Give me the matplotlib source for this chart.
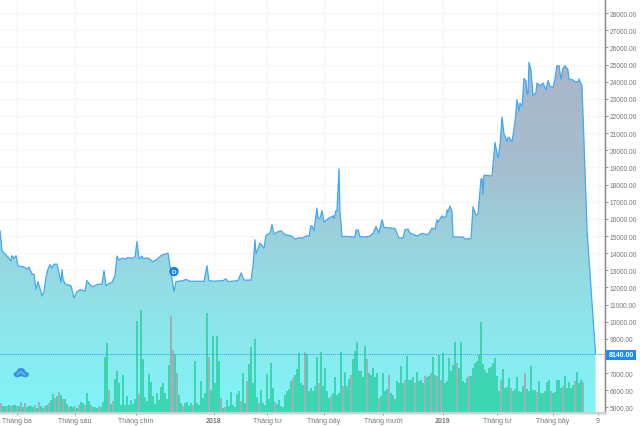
#STOCK PRICE AREA CHART WITH VOLUME BARS
import numpy as np
import matplotlib
matplotlib.use('Agg')
import matplotlib.pyplot as plt
from matplotlib.colors import LinearSegmentedColormap
from matplotlib.patches import Ellipse, Rectangle, Polygon

plt.rcParams['font.family'] = ['Liberation Sans', 'DejaVu Sans']

# PRICE LINE (SESSION POSITION, PRICE)
price_x = [0, 2, 5, 8, 11, 12, 14, 16, 18, 23, 27, 29, 32, 34, 36, 38, 42, 44, 46, 48, 50, 52, 54, 57, 61, 62, 63, 65, 71, 74,
           77, 80, 85, 87, 90, 93, 97, 102, 104, 106, 108, 112, 115, 117, 119, 122, 125, 128, 132, 135, 137, 139, 142, 143, 148, 153, 157, 162, 168,
           171, 174, 176, 183, 186, 190, 200, 204, 207, 209, 213, 223, 226, 228, 238, 241, 244, 251, 253, 255, 256, 260, 264, 266, 270,
           272, 274, 278, 281, 285, 291, 295, 300, 302, 307, 309, 311, 312, 314, 317, 318, 320, 322, 324, 328, 333, 334, 336, 337, 339, 340, 342,
           345, 355, 356, 358, 360, 365, 370, 373, 376, 379, 382, 384, 395, 399, 403, 405, 408, 410, 417, 422, 428, 432,
           435, 437, 438, 442, 443, 446, 447, 448, 450, 452, 453, 463, 465, 471, 473, 476, 478, 481, 482, 483, 484, 492, 495, 497, 498, 500,
           502, 504, 507, 508, 509, 512, 513, 515, 517, 519, 520, 522, 524, 526, 527, 528, 529, 531, 533, 536, 537, 540, 543, 546, 548, 550, 553, 555,
           557, 559, 561, 563, 565, 568, 569, 573, 575, 578, 579, 582, 584, 587, 595.5]
price_y = [15310, 14140, 13950, 13770, 13560, 13850, 13700, 13850, 13250, 13210, 13075, 13190, 12780, 12780, 11900, 12340, 11500, 11750, 12600, 13075, 13330, 13130, 13360, 13360, 12300, 13030, 12500, 12200, 12100, 11390,
           11750, 11870, 11790, 12400, 12140, 12040, 12170, 12200, 12980, 12100, 12200, 12300, 12680, 13830, 13600, 13700, 13660, 13750, 13690, 13790, 14670, 13660, 13830, 13680, 13720, 13500, 13650, 13900, 14000,
           12900, 11750, 12340, 12400, 12470, 12360, 12360, 12360, 13270, 12400, 12360, 12400, 12500, 12340, 12400, 12840, 12430, 12430, 13270, 14780, 13950, 14590, 14290, 15050, 15170,
           15660, 15120, 15250, 15310, 15080, 15020, 14820, 14910, 14870, 15020, 14990, 15600, 15600, 15310, 16630, 16050, 16030, 16480, 15820, 16000, 16180, 16030, 16480, 16480, 18910, 16400, 14960,
           14980, 14940, 15350, 15350, 14960, 14940, 15000, 15150, 15560, 15170, 15950, 15500, 15440, 14870, 14890, 15370, 15400, 15170, 15000, 15150, 15070, 15460,
           15400, 15950, 15800, 16180, 16080, 16130, 16520, 16420, 16750, 16400, 14940, 14940, 14820, 14850, 16700, 16220, 16280, 18320, 18350, 17440, 18550, 18500, 20460, 19800, 19550, 20280,
           21940, 20950, 20500, 20750, 20750, 20500, 20890, 21640, 22950, 22300, 22750, 22570, 24190, 24050, 23280, 23280, 25130, 24650, 23180, 23370, 23920, 23750, 23920, 23530, 24060, 23730, 23670, 24150,
           24930, 24930, 24150, 24780, 24930, 24700, 24150, 24100, 24000, 24000, 24150, 23750, 20500, 15400, 8140]

# VOLUME BARS, ONE VALUE EVERY TWO SESSIONS
volume = [10, 7, 7, 7, 8, 7, 8, 8, 7, 7, 11, 6, 10, 6, 7,
          7, 6, 8, 5, 11, 7, 5, 7, 8, 10, 13, 19, 15, 17, 21,
          18, 14, 14, 9, 6, 7, 6, 7, 5, 8, 11, 10, 8, 20, 12,
          8, 6, 6, 5, 7, 6, 11, 56, 70, 23, 9, 12, 34, 42, 30,
          8, 38, 8, 17, 8, 13, 9, 14, 92, 19, 103, 54, 16, 12, 39,
          31, 17, 9, 20, 13, 26, 30, 20, 14, 48, 97, 63, 59, 40, 18,
          10, 7, 10, 11, 7, 10, 8, 52, 10, 8, 32, 15, 20, 100, 56,
          23, 77, 30, 77, 52, 15, 5, 6, 13, 7, 21, 8, 6, 19, 22,
          12, 40, 10, 32, 49, 66, 30, 74, 16, 10, 23, 10, 8, 39, 14,
          50, 25, 11, 9, 13, 7, 6, 18, 22, 24, 32, 35, 38, 44, 60,
          30, 28, 61, 59, 22, 25, 22, 27, 56, 30, 61, 27, 45, 22, 15,
          17, 20, 36, 18, 20, 61, 27, 41, 27, 34, 38, 54, 62, 71, 42,
          42, 36, 67, 54, 40, 38, 45, 36, 40, 15, 17, 40, 22, 24, 38,
          20, 18, 14, 32, 30, 47, 30, 33, 57, 33, 33, 36, 30, 41, 32,
          33, 30, 37, 36, 37, 40, 56, 38, 37, 58, 33, 60, 30, 32, 55,
          42, 48, 71, 50, 45, 71, 32, 30, 35, 37, 37, 45, 50, 52, 58,
          91, 49, 43, 40, 45, 46, 50, 55, 37, 22, 33, 44, 25, 26, 35,
          25, 22, 24, 36, 22, 21, 27, 40, 24, 22, 47, 23, 23, 21, 32,
          20, 20, 22, 31, 33, 22, 20, 21, 33, 33, 25, 27, 37, 25, 31,
          25, 28, 32, 41, 30, 33, 31]
# BARS THAT CLOSED DOWN (GREY)
down_bars = [0, 3, 5, 8, 10, 12, 17, 19, 22, 24, 27, 29, 31, 34, 37, 39, 42, 45, 49, 54, 56, 69, 85, 86, 88, 91, 96, 104,
             110, 112, 120, 123, 129, 137, 146, 152, 159, 165, 171, 175, 183, 189, 194, 202, 207, 212, 215, 218, 220, 228, 234, 250,
             255, 262, 268, 275, 281, 287, 291]

# AXIS TICKS AND LABELS (THE 8000 LABEL SITS BEHIND THE LAST PRICE BOX, SO IT STAYS BLANK)
price_ticks = [5000, 6000, 7000, 8000, 9000, 10000, 11000, 12000, 13000, 14000, 15000, 16000, 17000, 18000, 19000, 20000,
               21000, 22000, 23000, 24000, 25000, 26000, 27000, 28000]
date_ticks = [17, 75, 135.5, 214, 267, 324, 383, 443, 497, 553, 598]
date_labels = ['Tháng ba', 'Tháng sáu', 'Tháng chín', '2018', 'Tháng tư', 'Tháng bảy', 'Tháng mười', '2019', 'Tháng tư', 'Tháng bảy', '9']
last_price = 8140
div_x, div_y = 174, 12930

fig = plt.figure(figsize=(6.4, 4.27), dpi=100)
ax = fig.add_axes([0, 13 / 427, 605 / 640, 414 / 427])

# VOLUME AXES SHARES THE X AXIS (TWINX MUST COME BEFORE THE TICK SETUP)
ax2 = ax.twinx()

# GRID
ax.set_axisbelow(True)
ax.grid(True, color='#f6f6f6', linewidth=0.8)

# GRADIENT AREA UNDER THE PRICE LINE
cmap = LinearSegmentedColormap.from_list('area', ['#80f5f8', '#92dfe5', '#a5bfcf', '#aab2c8'])
grad = np.linspace(0, 1, 256).reshape(-1, 1)
img = ax.imshow(grad, cmap=cmap, origin='lower', extent=[0, 605, 4679, 26000], aspect='auto', zorder=1)
area = Polygon(list(zip(price_x, price_y)) + [(price_x[-1], 4679), (price_x[0], 4679)], closed=True,
               transform=ax.transData, facecolor='none', edgecolor='none')
ax.add_patch(area)
img.set_clip_path(area)
ax.plot(price_x, price_y, color='#3fa9f5', linewidth=0.9, zorder=3)

ax.set_xlim(0, 605)
ax.set_ylim(4679, 28820)

# AXES STYLE
for side in ['top', 'left']:
    ax.spines[side].set_visible(False)
    ax2.spines[side].set_visible(False)
ax2.spines['right'].set_color('#8c8c8c')
ax2.spines['right'].set_linewidth(1.0)
ax2.spines['bottom'].set_color('#cfcfcf')
ax2.spines['bottom'].set_linewidth(1.6)
ax.yaxis.tick_right()
ax.set_yticks(price_ticks)
ax.set_yticklabels(['' if v == 8000 else '{:.2f}'.format(v) for v in price_ticks])
ax.tick_params(axis='y', length=2.2, width=0.6, color='#8c8c8c', labelcolor='#777777', labelsize=4.8, pad=1.0)
ax.set_xticks(date_ticks)
ax.set_xticklabels(date_labels)
ax.tick_params(axis='x', length=1.5, width=0.6, color='#8c8c8c', labelcolor='#777777', labelsize=5.0, pad=1.2)
for lab in ax.get_xticklabels():
    if lab.get_text() in ('2018', '2019'):
        lab.set_fontweight('bold')

# VOLUME BARS
bar_x = np.arange(len(volume)) * 2 + 1
bar_colors = ['#a0a0a0' if i in down_bars else '#26cc9c' for i in range(len(volume))]
ax2.bar(bar_x, volume, width=1.4, color=bar_colors, alpha=0.75, linewidth=0)
ax2.set_yticks([])
ax2.set_xlim(0, 605)
ax2.set_ylim(0, 414)

# DOTTED LAST PRICE LINE
ax2.plot([0, 1], [last_price, last_price], transform=ax.get_yaxis_transform(), color='#3a9ae6',
         linewidth=0.7, linestyle=(0, (1, 1)))
ax2.set_ylim(0, 414)

# OVERLAY IN PIXEL COORDS: LAST PRICE LABEL, DIVIDEND MARKER AND LOGO
over = fig.add_axes([0, 0, 1, 1])
over.set_xlim(0, 640)
over.set_ylim(427, 0)
over.axis('off')
over.add_patch(Rectangle((606, 351), 30, 10, facecolor='#1a8cff', edgecolor='none'))
over.text(621, 356, '{:.2f}'.format(last_price), color='white', fontsize=5.0, fontweight='bold', ha='center', va='center')
ax.annotate('D', (div_x, div_y), color='white', fontsize=4.5, fontweight='bold', ha='center', va='center',
            annotation_clip=False, zorder=6,
            bbox=dict(boxstyle='circle,pad=0.35', facecolor='#0f84e8', edgecolor='none'))
over.add_patch(Ellipse((21, 373), 9, 8, facecolor='#3d8fe0', edgecolor='none'))
over.add_patch(Ellipse((17.5, 375.5), 8, 5.5, facecolor='#3d8fe0', edgecolor='none'))
over.add_patch(Ellipse((25, 375.5), 8, 5.5, facecolor='#3d8fe0', edgecolor='none'))
over.plot([17, 21, 25], [376, 372.5, 376], color='#8eeef2', linewidth=0.5)

fig.savefig('out.png', dpi=100)
